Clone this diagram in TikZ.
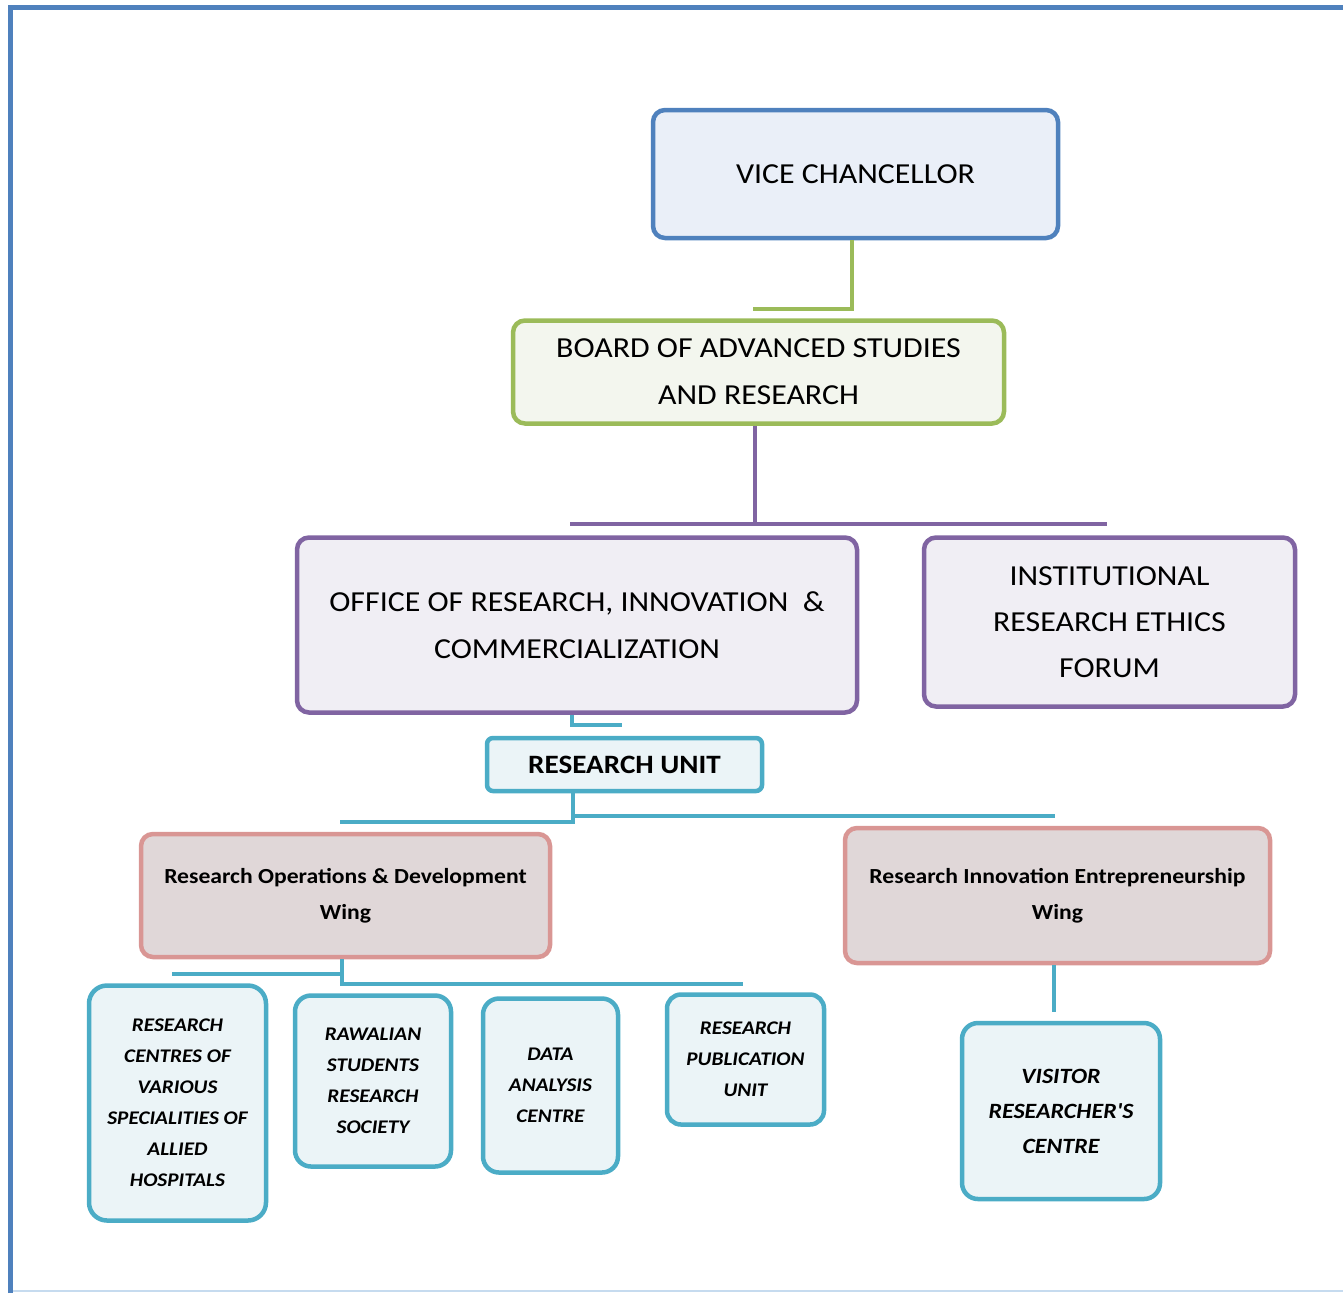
\documentclass[tikz,border=0pt]{standalone}
\usepackage{fontspec}
\setmainfont[FakeStretch=1.1, Ligatures=TeXOff]{Carlito}
\usetikzlibrary{calc}
\definecolor{cblue}{HTML}{4F81BD}
\definecolor{fblue}{HTML}{EAEFF8}
\definecolor{cgreen}{HTML}{9BBB59}
\definecolor{fgreen}{HTML}{F3F6EE}
\definecolor{cpurple}{HTML}{8064A2}
\definecolor{fpurple}{HTML}{F0EEF4}
\definecolor{cteal}{HTML}{4BACC6}
\definecolor{fteal}{HTML}{EBF4F7}
\definecolor{cpink}{HTML}{D99694}
\definecolor{fpink}{HTML}{E0D7D8}
\definecolor{cframe}{HTML}{4F81BD}
\definecolor{cbottom}{HTML}{C6DBEF}
\begin{document}
\begin{tikzpicture}[x=1pt,y=-1pt,
  box/.style={draw, rounded corners=12pt, line width=4.5pt, align=center, inner sep=0pt},
  bigtxt/.style={font=\fontsize{29}{47}\selectfont},
  wingtxt/.style={font=\fontsize{21.5}{36}\selectfont\bfseries},
  leaftxt/.style={font=\fontsize{19.3}{31}\selectfont\bfseries\itshape},
  conn/.style={line width=4.5pt}]
\useasboundingbox (0,0) rectangle (1343,1293);
% frame
\draw[cbottom, line width=2pt] (10,1291) -- (1343,1291);
\draw[cframe, line width=5pt] (10,1293) -- (10,7) -- (1343,7);

% nodes
\node[box, bigtxt, draw=cblue, fill=fblue, minimum width=405pt, minimum height=128pt] (vc) at (855.5,174) {VICE CHANCELLOR};
\node[box, bigtxt, draw=cgreen, fill=fgreen, minimum width=491pt, minimum height=103pt] (board) at (758.5,372) {BOARD OF ADVANCED STUDIES\\AND RESEARCH};
\node[box, bigtxt, draw=cpurple, fill=fpurple, minimum width=560pt, minimum height=175pt] (office) at (577,625) {OFFICE OF RESEARCH, INNOVATION\ \ \&\\COMMERCIALIZATION};
\node[box, draw=cpurple, fill=fpurple, minimum width=371pt, minimum height=169pt, font=\fontsize{29}{46}\selectfont] (iref) at (1109.5,622) {INSTITUTIONAL\\RESEARCH ETHICS\\FORUM};
\node[box, draw=cteal, fill=fteal, rounded corners=6pt, minimum width=275pt, minimum height=53pt, font=\fontsize{26.5}{30}\selectfont\bfseries] (ru) at (624.5,764.5) {RESEARCH UNIT};
\node[box, wingtxt, draw=cpink, fill=fpink, minimum width=409pt, minimum height=123pt] (rod) at (345.5,895.5) {Research Operations \& Development\\Wing};
\node[box, wingtxt, draw=cpink, fill=fpink, minimum width=425pt, minimum height=135pt] (rie) at (1057.5,895.5) {Research Innovation Entrepreneurship\\Wing};
\node[box, leaftxt, draw=cteal, fill=fteal, rounded corners=18pt, minimum width=177pt, minimum height=235pt] (rc) at (177.5,1103) {RESEARCH\\CENTRES OF\\VARIOUS\\SPECIALITIES OF\\ALLIED\\HOSPITALS};
\node[box, leaftxt, draw=cteal, fill=fteal, rounded corners=16pt, minimum width=156pt, minimum height=171pt] (raw) at (373,1081) {RAWALIAN\\STUDENTS\\RESEARCH\\SOCIETY};
\node[box, leaftxt, draw=cteal, fill=fteal, rounded corners=16pt, minimum width=135pt, minimum height=174pt] (data) at (550.5,1085.5) {DATA\\ANALYSIS\\CENTRE};
\node[box, leaftxt, draw=cteal, fill=fteal, rounded corners=14pt, minimum width=157pt, minimum height=130pt] (rpu) at (745.5,1059.5) {RESEARCH\\PUBLICATION\\UNIT};
\node[box, draw=cteal, fill=fteal, rounded corners=16pt, minimum width=198pt, minimum height=176pt, font=\fontsize{21.8}{35}\selectfont\bfseries\itshape] (vis) at (1061,1111) {VISITOR\\RESEARCHER'S\\CENTRE};

% connector ends
\coordinate (g1) at (753,309);
\coordinate (p0) at (755,524);
\coordinate (pL) at (570,524);
\coordinate (pR) at (1107,524);
\coordinate (t1) at (622,725);
\coordinate (ruJ) at (573,816);
\coordinate (ruL) at (340,822);
\coordinate (ruR) at (1055,816);
\coordinate (rodL) at (172,974);
\coordinate (rodR) at (743,984);
\coordinate (rieE) at (1054,1012);

% connectors
\draw[conn, cgreen] ([xshift=-3.5pt]vc.south) |- (g1);
\draw[conn, cpurple] ([xshift=-3.5pt]board.south) -- (p0);
\draw[conn, cpurple] (pL) -- (pR);
\draw[conn, cteal] ([xshift=-5pt]office.south) |- (t1);
\draw[conn, cteal] ([xshift=-51.5pt]ru.south) |- (ruL);
\draw[conn, cteal] (ruJ) -- (ruR);
\draw[conn, cteal] ([xshift=-3.5pt]rod.south) |- (rodL);
\draw[conn, cteal] ([xshift=-3.5pt]rod.south) |- (rodR);
\draw[conn, cteal] ([xshift=-3.5pt]rie.south) -- (rieE);
\end{tikzpicture}
\end{document}
